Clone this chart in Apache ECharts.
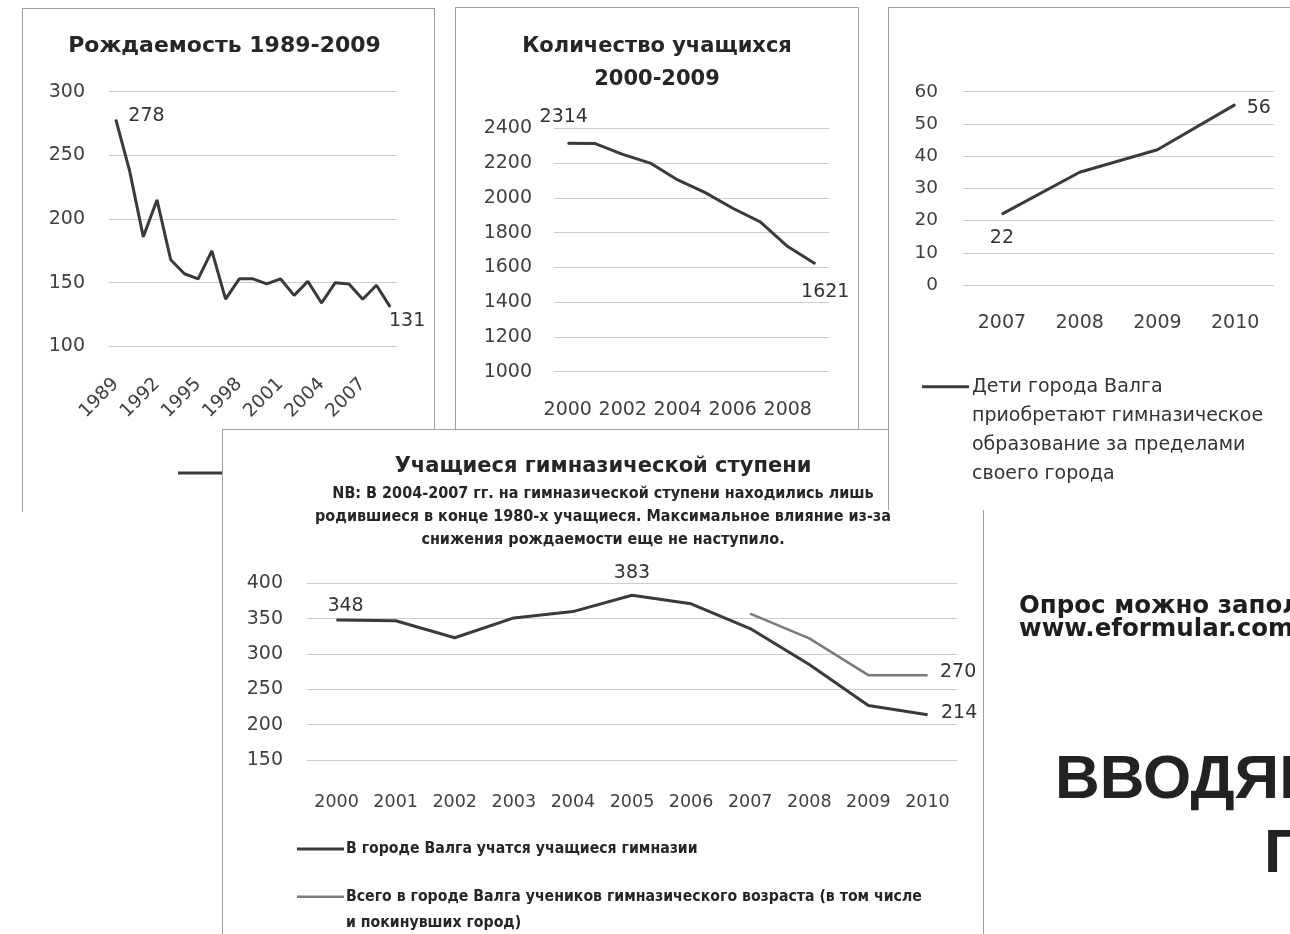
<!DOCTYPE html>
<html><head><meta charset="utf-8">
<script src="https://cdn.jsdelivr.net/npm/echarts@6/dist/echarts.min.js"></script>
<style>
html,body{margin:0;padding:0;width:1290px;height:934px;overflow:hidden;background:#fff;}
.p{position:absolute;box-sizing:border-box;background:#fff;border:1px solid #a0a0a0;}
</style></head><body>
<div id="bg" style="position:absolute;left:0;top:0;width:1290px;height:934px;"></div>
<div id="c1" class="p" style="left:22px;top:8px;width:413px;height:504px;border-bottom:none;z-index:1"></div>
<div id="c2" class="p" style="left:455px;top:7px;width:404px;height:430px;z-index:1"></div>
<div id="c4" class="p" style="left:222px;top:429px;width:762px;height:520px;z-index:2"></div>
<div id="c3" class="p" style="left:888px;top:7px;width:420px;height:503px;border-bottom:none;border-right:none;z-index:3"></div>
<script>
// ---------- data ----------
const birthYears = ['1989','1990','1991','1992','1993','1994','1995','1996','1997','1998','1999','2000','2001','2002','2003','2004','2005','2006','2007','2008','2009'];
const births = [278, 238, 186, 215, 168, 157, 153, 175, 137, 153, 153, 149, 153, 140, 151, 134, 150, 149, 137, 148, 131];

const pupilYears = ['2000','2001','2002','2003','2004','2005','2006','2007','2008','2009'];
const pupils = [2314, 2312, 2250, 2200, 2103, 2030, 1940, 1862, 1720, 1621];

const awayYears = ['2007','2008','2009','2010'];
const awayKids = [22, 35, 42, 56];

const gymYears = ['2000','2001','2002','2003','2004','2005','2006','2007','2008','2009','2010'];
const gymInTown = [348, 347, 323, 351, 360, 383, 371, 336, 285, 227, 214];
const gymAll = [null, null, null, null, null, null, null, 357, 322, 270, 270];

const titles = {
  births: 'Рождаемость 1989-2009',
  pupils: 'Количество учащихся\n2000-2009',
  gym: 'Учащиеся гимназической ступени',
  gymNote: 'NB: В 2004-2007 гг. на гимназической ступени находились лишь\nродившиеся в конце 1980-х учащиеся. Максимальное влияние из-за\nснижения рождаемости еще не наступило.'
};
const names = {
  away: 'Дети города Валга\nприобретают гимназическое\nобразование за пределами\nсвоего города',
  gymIn: 'В городе Валга учатся учащиеся гимназии',
  gymAll: 'Всего в городе Валга учеников гимназического возраста (в том числе\nи покинувших город)'
};

// ---------- styles ----------
const F = 'DejaVu Sans';
const FC = 'DejaVu Sans Condensed';
const TXT = '#404040';
const LINE = '#3a3a3a';
const GRID = '#cccccc';

function yAx(min, max, interval, fs, margin) {
  return {type: 'value', min: min, max: max, interval: interval,
    axisLine: {show: false}, axisTick: {show: false},
    splitLine: {lineStyle: {color: GRID, width: 1}},
    axisLabel: {fontFamily: F, fontSize: fs, color: TXT, margin: margin,
      formatter: function (v) { return String(v); }}};
}
function xAx(cats, fs, margin, extra) {
  return {type: 'category', data: cats, boundaryGap: true,
    axisLine: {show: false}, axisTick: {show: false}, splitLine: {show: false},
    axisLabel: Object.assign({fontFamily: F, fontSize: fs, color: TXT, margin: margin}, extra || {})};
}
function withLabels(values, labelMap) {
  return values.map(function (v, i) {
    if (labelMap[i]) {
      return {value: v, label: Object.assign({show: true, fontFamily: F, fontSize: 19, color: '#333'}, labelMap[i])};
    }
    return v;
  });
}
function lineSeries(name, data, color, width) {
  return {type: 'line', name: name, data: data, symbol: 'circle', symbolSize: 1, showSymbol: true,
    connectNulls: false, lineStyle: {color: color, width: width}, itemStyle: {color: color},
    label: {show: false}, emphasis: {disabled: true}, z: 3};
}

// ---------- chart 1 ----------
const c1 = echarts.init(document.getElementById('c1'), null, {renderer: 'canvas'});
c1.setOption({
  animation: false,
  title: {text: titles.births, left: 201.5, top: 26.5, textAlign: 'center', padding: 0,
    textStyle: {fontFamily: F, fontWeight: 'bold', fontSize: 22, lineHeight: 22, color: '#262626'}},
  grid: {left: 86, top: 82.7, width: 288, height: 254.6},
  xAxis: xAx(birthYears, 18.5, 35, {interval: 2, rotate: 45}),
  yAxis: yAx(100, 300, 50, 19, 24),
  series: [lineSeries('Рождаемость', withLabels(births, {
    0: {position: 'right', distance: 12, offset: [0, -4]},
    20: {position: 'bottom', distance: 4, offset: [17, 0]}
  }), LINE, 3)],
  graphic: [{type: 'line', shape: {x1: 155, y1: 464, x2: 205, y2: 464}, style: {stroke: LINE, lineWidth: 3}}]
});

// ---------- chart 2 ----------
const c2 = echarts.init(document.getElementById('c2'));
c2.setOption({
  animation: false,
  title: {text: titles.pupils, left: 'center', top: 22, padding: 0,
    textStyle: {fontFamily: F, fontWeight: 'bold', fontSize: 21, lineHeight: 33.3, color: '#262626'}},
  grid: {left: 98, top: 120.3, width: 275, height: 243.4},
  xAxis: xAx(pupilYears, 19, 29, {interval: 1}),
  yAxis: yAx(1000, 2400, 200, 19, 22),
  series: [lineSeries('Количество учащихся', withLabels(pupils, {
    0: {position: 'top', distance: 16, offset: [-4, 0]},
    9: {position: 'bottom', distance: 18, offset: [10, 0]}
  }), LINE, 3)]
});

// ---------- chart 3 ----------
const c3 = echarts.init(document.getElementById('c3'));
c3.setOption({
  animation: false,
  grid: {left: 74, top: 83.7, width: 311, height: 193.3},
  xAxis: xAx(awayYears, 19, 29),
  yAxis: yAx(0, 60, 10, 18.5, 25),
  series: [lineSeries(names.away, withLabels(awayKids, {
    0: {position: 'bottom', distance: 14},
    3: {position: 'right', distance: 11, offset: [0, 3]}
  }), LINE, 3)],
  graphic: [
    {type: 'line', shape: {x1: 33, y1: 378.7, x2: 80, y2: 378.7}, style: {stroke: LINE, lineWidth: 3}},
    {type: 'text', x: 83, y: 364.2, style: {text: names.away, fontFamily: F, fontSize: 19, lineHeight: 29,
      fill: '#333', align: 'left', verticalAlign: 'top'}}
  ]
});

// ---------- chart 4 ----------
const c4 = echarts.init(document.getElementById('c4'));
c4.setOption({
  animation: false,
  title: {text: titles.gym, subtext: titles.gymNote, left: 'center', top: 26, padding: 0, itemGap: 5,
    textStyle: {fontFamily: F, fontWeight: 'bold', fontSize: 21, lineHeight: 21, color: '#262626'},
    subtextStyle: {fontFamily: FC, fontWeight: 'bold', fontSize: 16, lineHeight: 23, color: '#262626'}},
  grid: {left: 84, top: 153.3, width: 650, height: 176.7},
  xAxis: xAx(gymYears, 17.5, 33),
  yAxis: yAx(150, 400, 50, 19, 24),
  series: [
    lineSeries(names.gymIn, withLabels(gymInTown, {
      0: {position: 'top', distance: 4, offset: [9, 0]},
      5: {position: 'top', distance: 12},
      10: {position: 'right', distance: 13, offset: [0, -2]}
    }), LINE, 3),
    lineSeries(names.gymAll, withLabels(gymAll, {
      10: {position: 'right', distance: 12, offset: [0, -3]}
    }), '#7a7a7a', 2.5)
  ],
  graphic: [
    {type: 'line', shape: {x1: 74, y1: 419, x2: 121, y2: 419}, style: {stroke: LINE, lineWidth: 3}},
    {type: 'text', x: 123, y: 419, style: {text: names.gymIn, fontFamily: FC, fontWeight: 'bold', fontSize: 15.7,
      fill: '#262626', align: 'left', verticalAlign: 'middle'}},
    {type: 'line', shape: {x1: 74, y1: 466.7, x2: 121, y2: 466.7}, style: {stroke: '#7a7a7a', lineWidth: 2.5}},
    {type: 'text', x: 123, y: 453.5, style: {text: names.gymAll, fontFamily: FC, fontWeight: 'bold', fontSize: 15.7,
      lineHeight: 26.3, fill: '#262626', align: 'left', verticalAlign: 'top'}}
  ]
});

// ---------- page text ----------
const bg = echarts.init(document.getElementById('bg'));
bg.setOption({
  animation: false,
  graphic: [
    {type: 'text', x: 1019, y: 607, style: {text: 'Опрос можно заполнить', fontFamily: F, fontWeight: 'bold',
      fontSize: 24.5, fill: '#1e1e1e', align: 'left', verticalAlign: 'middle'}},
    {type: 'text', x: 1019, y: 630, style: {text: 'www.eformular.com', fontFamily: F, fontWeight: 'bold',
      fontSize: 24.5, fill: '#1e1e1e', align: 'left', verticalAlign: 'middle'}},
    {type: 'text', x: 1055, y: 781, style: {text: 'ВВОДЯН', fontFamily: 'Liberation Sans', fontWeight: 'bold',
      fontSize: 62, fill: '#222', align: 'left', verticalAlign: 'middle'}},
    {type: 'text', x: 1264, y: 855, style: {text: 'Г', fontFamily: 'Liberation Sans', fontWeight: 'bold',
      fontSize: 62, fill: '#222', align: 'left', verticalAlign: 'middle'}}
  ]
});
</script>
</body></html>
